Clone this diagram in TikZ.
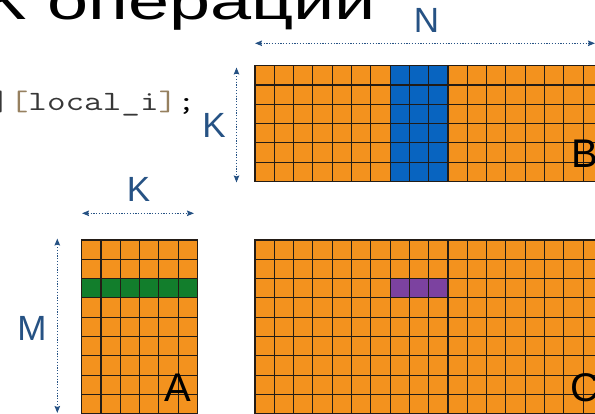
\documentclass[tikz,border=0pt]{standalone}
\usepackage{fontspec}
\usepackage{graphicx}
\setmainfont{Liberation Sans}
\usetikzlibrary{arrows.meta}
\definecolor{orangecell}{RGB}{243,146,30}
\definecolor{bluecell}{RGB}{8,100,192}
\definecolor{greencell}{RGB}{18,126,44}
\definecolor{purplecell}{RGB}{124,66,160}
\definecolor{dimblue}{RGB}{38,82,132}
\definecolor{gridc}{RGB}{35,28,22}
\definecolor{codebr}{RGB}{150,128,95}
\definecolor{codetxt}{RGB}{55,55,55}
\begin{document}
\begin{tikzpicture}[x=1pt,y=-1pt,
  matbox/.style={fill=orangecell, draw=gridc, line width=1.1pt, anchor=north west, inner sep=0, outer sep=0},
  cellgrid/.style={draw=gridc, line width=1.1pt},
  dimarrow/.style={draw=dimblue, line width=1pt, dash pattern=on 1.2pt off 1.6pt,
    {Stealth[length=7pt,width=5.5pt,inset=1pt]}-{Stealth[length=7pt,width=5.5pt,inset=1pt]}},
  dimlabel/.style={text=dimblue, font=\fontsize{35}{35}\selectfont, inner sep=0},
  matlabel/.style={text=black, font=\fontsize{40}{40}\selectfont, inner sep=0}
]
\useasboundingbox (0,0) rectangle (595,414);
\clip (0,0) rectangle (595,414);
\fill[white] (0,0) rectangle (595,414);

% title and code
\node[anchor=base west, inner sep=0] (title) at (-16.6,20)
  {\scalebox{1.42}[1]{\fontsize{52}{52}\selectfont К операции}};
\node[anchor=base west, inner sep=0] (code) at (-9,111)
  {\scalebox{1.29}[1]{\ttfamily\fontsize{28}{28}\selectfont
   \textcolor{codetxt}{]}\textcolor{codebr}{[}\textcolor{codetxt}{local\_i}\textcolor{codebr}{]};}};

% matrix B
\node[matbox, minimum width=347.4pt, minimum height=115.8pt] (B) at (255,65.7) {};
\fill[bluecell] ([xshift=135.1pt]B.north west) rectangle ([xshift=193pt]B.south west);
\draw[cellgrid, step=19.3pt, shift={(B.north west)}] (0pt,0pt) grid (347.5pt,-115.9pt);

% matrix A
\node[matbox, minimum width=115.8pt, minimum height=193pt] (A) at (81.7,240) {};
\fill[greencell] ([yshift=-38.6pt]A.north west) rectangle ([yshift=-57.9pt]A.north east);
\draw[cellgrid, step=19.3pt, shift={(A.north west)}] (0pt,0pt) grid (115.9pt,-193.1pt);

% matrix C
\node[matbox, minimum width=347.4pt, minimum height=193pt] (C) at (255,240) {};
\fill[purplecell] ([xshift=135.1pt,yshift=-38.6pt]C.north west) rectangle ([xshift=193pt,yshift=-57.9pt]C.north west);
\draw[cellgrid, step=19.3pt, shift={(C.north west)}] (0pt,0pt) grid (347.5pt,-193.1pt);

% dimension arrows
\coordinate (nL) at (255,43.3);
\coordinate (nR) at (595,43.3);
\draw[dimarrow] (nL) -- (nR);
\coordinate (kbT) at (236.5,67.5);
\coordinate (kbB) at (236.5,182.5);
\draw[dimarrow] (kbT) -- (kbB);
\coordinate (kaL) at (82,213.3);
\coordinate (kaR) at (194,213.3);
\draw[dimarrow] (kaL) -- (kaR);
\coordinate (mT) at (57.3,238.5);
\coordinate (mB) at (57.3,413);
\draw[dimarrow] (mT) -- (mB);

% dimension labels
\node[dimlabel] (labN) at (426.5,20.5) {N};
\node[dimlabel] (labKB) at (214,125) {K};
\node[dimlabel] (labKA) at (138.5,189.5) {K};
\node[dimlabel] (labM) at (32,328.5) {M};

% matrix labels
\node[matlabel] (labA) at (177.5,387.5) {A};
\node[matlabel] (labB) at (584.5,153.5) {B};
\node[matlabel] (labC) at (585,388) {C};
\end{tikzpicture}
\end{document}
